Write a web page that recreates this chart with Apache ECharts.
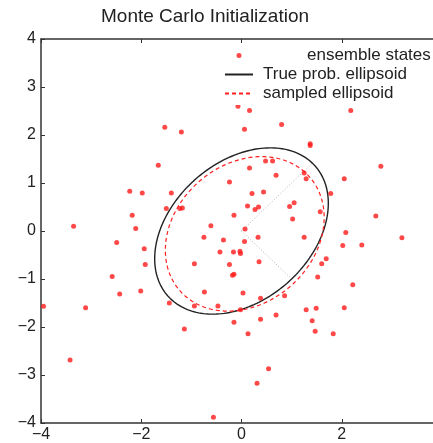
<!DOCTYPE html>
<html>
<head>
<meta charset="utf-8">
<script src="https://cdn.jsdelivr.net/npm/echarts@6/dist/echarts.min.js"></script>
<style>
  html, body { margin: 0; padding: 0; background: #fff; }
  #chart { width: 433px; height: 443px; }
</style>
</head>
<body>
<div id="chart"></div>
<script>
// ensemble states
const ensembleX = [-1.53, -1.20, -1.66, -2.23, -1.98, -1.40, -1.50, -2.18, -1.23, -1.18,
  -3.35, -2.11, -0.61, -0.75, -2.49, -1.94, -1.92, -2.58, -2.43, -2.01,
  -3.95, -3.11, -1.44, -1.14, -3.42, -0.94, -0.74, -0.94, -0.47, -0.43,
  -0.56, 0.07, 0.33, -0.36, 0.06, 1.25, 2.08, 2.02, 2.40, 3.20,
  -0.16, -0.03, -0.02, 0.35, -0.24, -0.18, -0.15, 1.69, 1.60, 1.52,
  2.22, 0.03, 0.38, 0.86, -0.02, 1.29, 1.49, 2.05, 0.38, 0.69,
  -0.15, 1.41, 1.47, 1.83, 0.13, 0.54, 0.31, -0.07, 0.16, 2.18,
  0.06, 0.80, 1.37, 1.37, 2.78, 0.16, 0.48, 0.62, 0.69, 1.25,
  1.29, 2.05, -0.24, 1.78, 0.21, 0.44, 0.12, 0.27, 0.34, 0.96,
  1.05, -0.15, 1.02, 1.57, 2.68]
const ensembleY = [2.16, 2.06, 1.37, 0.83, 0.79, 0.79, 0.47, 0.33, 0.47, 0.48,
  0.10, 0.05, 0.11, -0.13, -0.24, -0.37, -0.70, -0.95, -1.31, -1.25,
  -1.57, -1.60, -1.50, -2.04, -2.69, -0.68, -1.27, -1.56, -1.56, -0.44,
  -3.88, 0.04, -0.13, -0.19, -0.22, -0.13, -0.03, -0.30, -0.29, -0.14,
  -0.44, -0.42, -0.47, -0.64, -0.70, -0.92, -0.90, -0.58, -0.68, -0.96,
  -1.12, -1.29, -1.40, -1.35, -1.64, -1.64, -1.61, -1.60, -1.84, -1.75,
  -1.90, -1.87, -2.09, -2.14, -2.14, -2.87, -3.17, 2.60, 2.51, 2.51,
  2.12, 2.22, 1.82, 1.78, 1.35, 1.31, 1.46, 1.46, 1.16, 1.21,
  1.09, 1.09, 1.02, 0.78, 0.78, 0.81, 0.52, 0.45, 0.50, 0.51,
  0.59, 0.33, 0.25, 0.40, 0.31]

// ellipse parameters (mean, covariance)
const trueMean = [0, 0]
const trueCov = [[3, 1], [1, 3]]
const sampledMean = [0.065, -0.06]
const sampledCov = [[2.51, 0.54], [0.54, 2.59]]

// principal axes of the true ellipse, drawn dotted from the centre
const axisEnds = [[1.414, 1.414], [1.0, -1.0]]

function ellipse(mean, cov, n) {
  let a = cov[0][0], b = cov[0][1], d = cov[1][1]
  let tr = (a + d) / 2
  let det = Math.sqrt(((a - d) / 2) ** 2 + b * b)
  let l1 = tr + det, l2 = tr - det
  let th = 0.5 * Math.atan2(2 * b, a - d)
  let pts = []
  for (let i = 0; i <= n; i++) {
    let t = 2 * Math.PI * i / n
    let u = Math.sqrt(l1) * Math.cos(t), v = Math.sqrt(l2) * Math.sin(t)
    pts.push([mean[0] + u * Math.cos(th) - v * Math.sin(th),
              mean[1] + u * Math.sin(th) + v * Math.cos(th)])
  }
  return pts
}

const minus = v => String(v).replace('-', '\u2212')
const chart = echarts.init(document.getElementById('chart'))
const axisLine = { show: true, onZero: false, lineStyle: { color: '#333', width: 1.5 } }
const font = 'Liberation Sans'
const noIcon = { color: 'rgba(0,0,0,0)', borderWidth: 0 }

let option = {
  animation: false,
  title: {
    text: 'Monte Carlo Initialization',
    left: 96,
    top: 2,
    textStyle: { fontFamily: font, fontSize: 19, fontWeight: 'normal', color: '#222' }
  },
  legend: {
    orient: 'vertical',
    left: 218,
    top: 43,
    padding: [4, 40, 3, 6],
    backgroundColor: '#fff',
    itemWidth: 28,
    itemHeight: 5,
    itemGap: 2,
    selectedMode: false,
    formatter: name => name === 'ensemble states' ? '{pad|}' + name : name,
    textStyle: {
      fontFamily: font, fontSize: 17, color: '#222', lineHeight: 17,
      padding: [0, 0, 0, 5],
      rich: { pad: { width: 44 } }
    },
    data: [
      { name: 'ensemble states', icon: 'circle' },
      { name: 'True prob. ellipsoid', itemStyle: noIcon },
      { name: 'sampled ellipsoid', itemStyle: noIcon }
    ]
  },
  grid: { left: 41, top: 39, right: -9, bottom: 20, containLabel: false, outerBoundsMode: 'none' },
  xAxis: [{
    type: 'value', min: -4, max: 4, interval: 2,
    axisLine: axisLine,
    axisTick: { inside: true, length: 4, lineStyle: { color: '#333' } },
    axisLabel: { margin: 4, formatter: minus, fontFamily: font, fontSize: 16, color: '#222' },
    splitLine: { show: false }
  }, {
    type: 'value', min: -4, max: 4, interval: 2, position: 'top',
    axisLine: axisLine,
    axisTick: { inside: true, length: 4, lineStyle: { color: '#333' } },
    axisLabel: { show: false },
    splitLine: { show: false }
  }],
  yAxis: {
    type: 'value', min: -4, max: 4, interval: 1,
    axisLine: axisLine,
    axisTick: { inside: true, length: 4, lineStyle: { color: '#333' } },
    axisLabel: { margin: 5, formatter: minus, fontFamily: font, fontSize: 16, color: '#222' },
    splitLine: { show: false }
  },
  series: [
    {
      name: 'ensemble states',
      type: 'scatter',
      symbolSize: 5,
      itemStyle: { color: '#ff1a1a' },
      data: ensembleX.map((x, i) => [x, ensembleY[i]]),
      z: 3
    },
    {
      name: 'True prob. ellipsoid',
      type: 'line',
      showSymbol: false,
      symbol: 'none',
      lineStyle: { color: '#222', width: 1.4 },
      data: ellipse(trueMean, trueCov, 200),
      z: 2
    },
    {
      name: 'sampled ellipsoid',
      type: 'line',
      showSymbol: false,
      symbol: 'none',
      lineStyle: { color: '#ff2020', width: 1.2, type: [4, 3] },
      data: ellipse(sampledMean, sampledCov, 200),
      z: 2
    },
    {
      name: 'axis1',
      type: 'line',
      symbol: 'none',
      lineStyle: { color: '#b0b0b0', width: 1, type: [1, 2] },
      data: [trueMean, axisEnds[0]],
      z: 1
    },
    {
      name: 'axis2',
      type: 'line',
      symbol: 'none',
      lineStyle: { color: '#b0b0b0', width: 1, type: [1, 2] },
      data: [trueMean, axisEnds[1]],
      z: 1
    }
  ]
}
option && chart.setOption(option)
</script>
</body>
</html>
